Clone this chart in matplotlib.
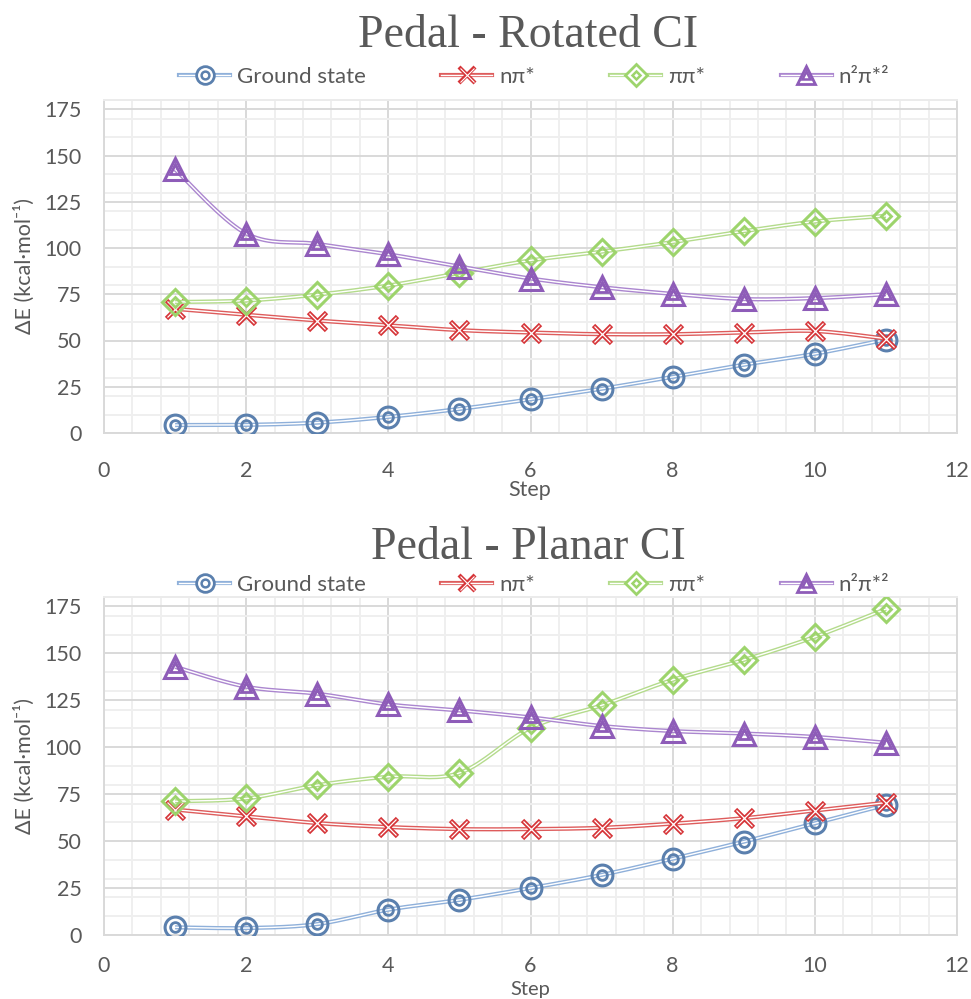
import numpy as np
import matplotlib
matplotlib.use("Agg")
import matplotlib.pyplot as plt
from matplotlib.lines import Line2D
from matplotlib.legend_handler import HandlerBase
from matplotlib.ticker import MultipleLocator

# ---------------- data ----------------
steps = [1, 2, 3, 4, 5, 6, 7, 8, 9, 10, 11]
series_names = ["Ground state", "nπ*", "ππ*", "n²π*²"]

rot_ground = [4.3, 4.4, 5.6, 8.7, 13.0, 18.2, 23.9, 30.3, 36.9, 42.8, 50.5]
rot_npi = [67.1, 63.9, 60.8, 58.2, 55.6, 54.3, 53.4, 53.4, 54.3, 55.1, 51.0]
rot_pipi = [70.8, 71.6, 74.8, 79.7, 86.5, 93.3, 98.0, 103.2, 109.1, 114.3, 117.4]
rot_n2pi2 = [142.5, 107.8, 102.2, 96.6, 90.0, 83.5, 78.8, 75.2, 72.4, 72.9, 75.0]

pla_ground = [4.1, 3.7, 5.8, 13.5, 18.7, 25.0, 32.0, 40.6, 49.7, 59.5, 69.3]
pla_npi = [66.8, 63.2, 59.6, 57.5, 56.4, 56.4, 57.1, 59.3, 62.2, 66.3, 70.5]
pla_pipi = [71.2, 72.7, 79.8, 84.3, 86.3, 110.3, 122.3, 135.9, 146.5, 158.8, 173.6]
pla_n2pi2 = [142.8, 132.2, 128.5, 122.8, 119.6, 115.9, 111.3, 108.6, 107.3, 105.5, 102.4]

panels = [
    ("Pedal - Rotated CI", [rot_ground, rot_npi, rot_pipi, rot_n2pi2]),
    ("Pedal - Planar CI", [pla_ground, pla_npi, pla_pipi, pla_n2pi2]),
]

# ---------------- style ----------------
line_colors = ["#8FB0DA", "#DE5C5C", "#B4DB8C", "#AB86CF"]
marker_colors = ["#5B80AE", "#D63438", "#9DD46C", "#8E5CB8"]
markers = ["o", "x", "D", "^"]
TXT = "#595959"
SANS = ["Lato", "DejaVu Sans"]
plt.rcParams["font.family"] = SANS
FS = 15.5


def smooth(x, y, n=20):
    """Excel-like smoothed curve (Catmull-Rom via cubic Bezier)."""
    x = np.asarray(x, float)
    y = np.asarray(y, float)
    P = np.column_stack([x, y])
    out = []
    t = np.linspace(0, 1, n)[:, None]
    for i in range(len(P) - 1):
        p0 = P[i - 1] if i > 0 else P[i]
        p1 = P[i]
        p2 = P[i + 1]
        p3 = P[i + 2] if i + 2 < len(P) else P[i + 1]
        c1 = p1 + (p2 - p0) / 6.0
        c2 = p2 - (p3 - p1) / 6.0
        seg = ((1 - t) ** 3) * p1 + 3 * ((1 - t) ** 2) * t * c1 + 3 * (1 - t) * t ** 2 * c2 + t ** 3 * p2
        out.append(seg if i == 0 else seg[1:])
    out = np.vstack(out)
    return out[:, 0], out[:, 1]


BIG = {"o": 15, "D": 13, "^": 15.5}
SMALL = {"o": 7.0, "D": 5.5, "^": 6.5}


def draw_marker(ax, x, y, k, z):
    mc = marker_colors[k]
    m = markers[k]
    if m == "x":
        ax.plot(x, y, ls="none", marker="x", ms=13, mew=3.4, mec=mc, zorder=z)
        ax.plot(x, y, ls="none", marker="x", ms=12, mew=0.9, mec="white", zorder=z + 0.1)
    else:
        ax.plot(x, y, ls="none", marker=m, ms=BIG[m], mew=2.2, mec=mc, mfc="none", zorder=z)
        ax.plot(x, y, ls="none", marker=m, ms=SMALL[m], mew=2.0, mec=mc, mfc="none", zorder=z)


class DoubleHandler(HandlerBase):
    def __init__(self, k):
        super().__init__()
        self.k = k

    def create_artists(self, legend, orig_handle, xdescent, ydescent, width, height, fontsize, trans):
        k = self.k
        yc = height / 2 - ydescent
        arts = []
        l1 = Line2D([-xdescent, width - xdescent], [yc, yc], color=line_colors[k], lw=3.0, transform=trans)
        l2 = Line2D([-xdescent, width - xdescent], [yc, yc], color="white", lw=1.0, transform=trans)
        arts += [l1, l2]
        xc = width / 2 - xdescent
        mc = marker_colors[k]
        m = markers[k]
        if m == "x":
            arts.append(Line2D([xc], [yc], ls="none", marker="x", ms=11, mew=3.0, mec=mc, transform=trans))
            arts.append(Line2D([xc], [yc], ls="none", marker="x", ms=10, mew=0.8, mec="white", transform=trans))
        else:
            arts.append(Line2D([xc], [yc], ls="none", marker=m, ms=BIG[m] * 0.85, mew=2.0, mec=mc, mfc="white", transform=trans))
            arts.append(Line2D([xc], [yc], ls="none", marker=m, ms=SMALL[m] * 0.8, mew=1.8, mec=mc, mfc="none", transform=trans))
        return arts


W, H = 971, 999
fig = plt.figure(figsize=(W / 100, H / 100), dpi=100)

axes_px = [(104, 100, 957, 433), (104, 597, 957, 935)]
title_base = [47, 559]
legend_y = [77, 585]
step_y = [490, 989]
xpad = [20, 15]

for p, (title, data) in enumerate(panels):
    l, t, r, b = axes_px[p]
    ax = fig.add_axes([l / W, 1 - b / H, (r - l) / W, (b - t) / H])
    ax.set_xlim(0, 12)
    ax.set_ylim(0, 180)
    ax.set_xticks(np.arange(0, 13, 2))
    ax.set_yticks(np.arange(0, 176, 25))
    ax.xaxis.set_minor_locator(MultipleLocator(0.4))
    ax.yaxis.set_minor_locator(MultipleLocator(10))
    ax.grid(which="minor", color="#EFEFEF", lw=1.4, zorder=0)
    ax.grid(which="major", color="#D9D9D9", lw=1.4, zorder=0.5)
    ax.set_axisbelow(True)
    ax.tick_params(which="both", length=0)
    ax.tick_params(axis="y", pad=16, labelsize=FS, labelcolor=TXT)
    ax.tick_params(axis="x", pad=xpad[p], labelsize=FS, labelcolor=TXT)
    for s in ["left", "bottom", "right"]:
        ax.spines[s].set_color("#D9D9D9")
        ax.spines[s].set_linewidth(1.4)
    ax.spines["top"].set_color("#EBEBEB")
    ax.spines["top"].set_linewidth(1.4)

    for k, vals in enumerate(data):
        z = 3 + k * 2
        sx, sy = smooth(steps, vals)
        ax.plot(sx, sy, color=line_colors[k], lw=3.0, solid_capstyle="butt", zorder=z)
        ax.plot(sx, sy, color="white", lw=1.0, solid_capstyle="butt", zorder=z + 0.2)
        draw_marker(ax, steps, vals, k, z + 0.5)

    ax.set_ylabel("ΔE (kcal·mol⁻¹)", fontsize=FS, color=TXT)
    ax.yaxis.set_label_coords(-69 / (r - l), 0.5)

    fig.text(528 / W, 1 - title_base[p] / H, title, ha="center", va="baseline",
             family=["Liberation Serif", "DejaVu Serif"], fontsize=33, color=TXT)
    fig.text(530 / W, 1 - step_y[p] / H, "Step", ha="center", va="center",
             fontsize=FS if p == 0 else 14.5, color=TXT)

    handles = [Line2D([], []) for _ in range(4)]
    fig.legend(handles, series_names, loc="center", bbox_to_anchor=(534 / W, 1 - legend_y[p] / H),
               ncol=4, frameon=False, fontsize=16, labelcolor=TXT,
               handler_map={h: DoubleHandler(i) for i, h in enumerate(handles)},
               handlelength=2.3, handletextpad=0.3, columnspacing=3.4, borderpad=0)

fig.savefig("out.png", dpi=100, facecolor="white")
